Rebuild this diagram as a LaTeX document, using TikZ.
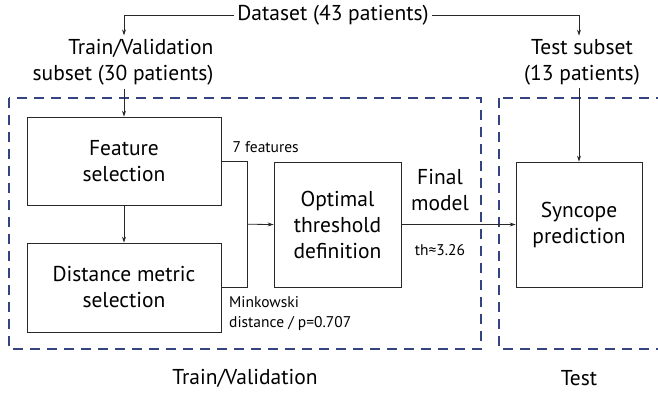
\documentclass[tikz,border=0pt]{standalone}
\usepackage{fontspec}
\setmainfont{PT Sans}
\usepackage{tikz}
\usetikzlibrary{calc,arrows.meta}

\definecolor{dashblue}{RGB}{52,68,128}
\definecolor{linegray}{RGB}{40,40,40}

\tikzset{
	big/.style={font=\fontsize{21.5}{26}\selectfont, align=center},
	small/.style={font=\fontsize{15.5}{20}\selectfont, align=left},
	block/.style={draw=linegray, line width=0.8pt, big, inner sep=0pt},
	link/.style={draw=linegray, line width=0.8pt, -{Stealth[length=6pt,width=4pt]}},
	plain/.style={draw=linegray, line width=0.8pt},
	phase/.style={draw=dashblue, line width=1.3pt, dash pattern=on 10pt off 7pt},
}

\begin{document}
\begin{tikzpicture}[x=1pt, y=-1pt]

	% ---- frame

	\clip (0,0) rectangle (658,394);

	% ---- dashed phases

	\draw[phase] (9,98) rectangle (481,349);
	\draw[phase] (499,98) rectangle (680,349);

	% ---- texts on top

	\node[big] (dataset) at (333,15) {Dataset (43 patients)};
	\node[big, align=right, anchor=east] (trainsub) at (217,62) {Train/Validation\\subset (30 patients)};
	\node[big] (testsub) at (582,62) {Test subset\\(13 patients)};

	% ---- blocks

	\node[block, minimum width=194pt, minimum height=88pt] (feature) at (124,161) {Feature\\selection};
	\node[block, minimum width=194pt, minimum height=89pt] (distance) at (124,287.5) {Distance metric\\selection};
	\node[block, minimum width=127pt, minimum height=125pt] (optimal) at (337.5,224.5) {Optimal\\threshold\\definition};
	\node[block, minimum width=126pt, minimum height=125pt] (syncope) at (579,224.5) {Syncope\\prediction};

	% ---- join point

	\coordinate (join) at ($(feature.east)!0.5!(distance.east) + (26,0)$);

	% ---- connectors

	\draw[link] (dataset.west) -| (trainsub.north -| feature.north);
	\draw[link] (dataset.east) -| (testsub.north -| syncope.north);
	\draw[link] (trainsub.south -| feature.north) -- (feature.north);
	\draw[link] (testsub.south -| syncope.north) -- (syncope.north);
	\draw[link] (feature) -- (distance);
	\draw[plain] (feature.east) -| (join);
	\draw[plain] (distance.east) -| (join);
	\draw[link] (join) -- (optimal.west);
	\draw[link] (optimal.east) -- (syncope.west);

	% ---- labels

	\node[small, anchor=base west] (nfeat) at (229,152) {7 features};
	\node[small, anchor=north west, inner sep=0pt] (mink) at (229,296) {Minkowski\\distance / p=0.707};
	\node[big] (final) at (440,190) {Final\\model};
	\node[small] (thres) at (440,250) {th≈3.26};

	% ---- phase names

	\node[big] (trainlabel) at (245,378) {Train/Validation};
	\node[big] (testlabel) at (579,378) {Test};

\end{tikzpicture}
\end{document}
